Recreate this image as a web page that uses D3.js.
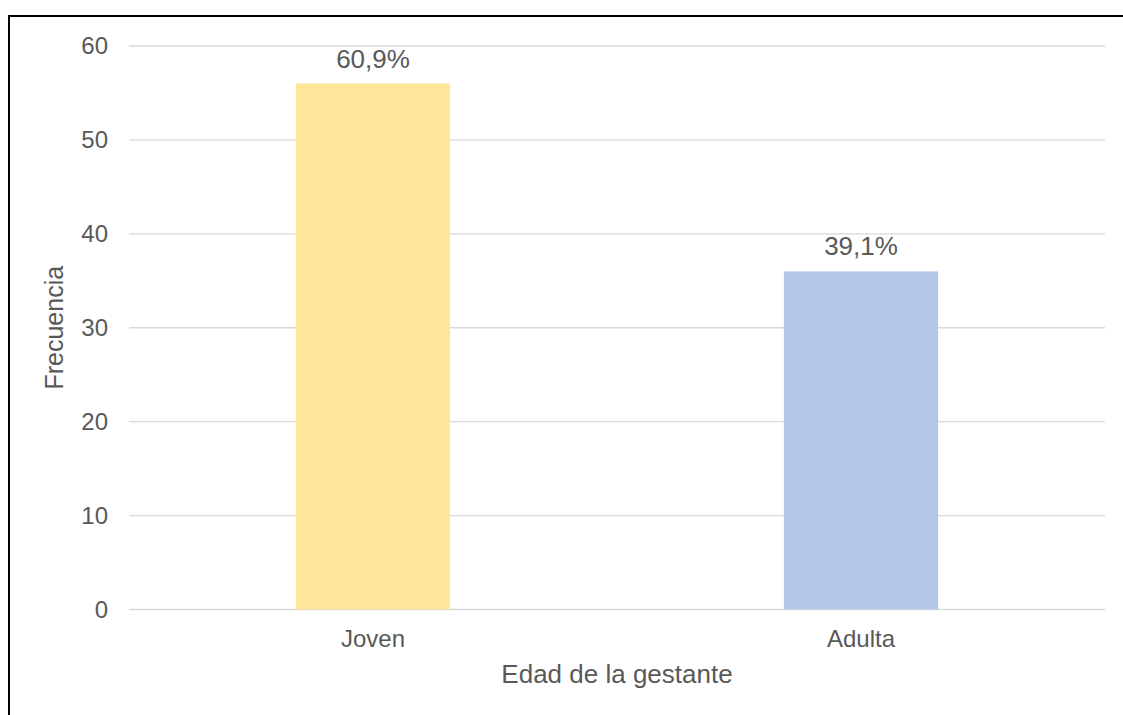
<!DOCTYPE html>
<html>
<head>
<meta charset="utf-8">
<script src="https://cdn.jsdelivr.net/npm/d3@7"></script>
<style>
  body { margin: 0; background: #fff; }
  svg text { font-family: "Liberation Sans", Arial, sans-serif; fill: #595959; }
</style>
</head>
<body>
<svg id="chart" width="1123" height="715"></svg>
<script>
  // datos
  var categories = ["Joven", "Adulta"];
  var frecuencias = [56, 36];
  var porcentajes = ["60,9%", "39,1%"];
  var colores = ["#FFE699", "#B4C7E7"];
  var yTicks = [0, 10, 20, 30, 40, 50, 60];

  var svg = d3.select("#chart");
  var plotLeft = 129, plotRight = 1105, plotTop = 46, plotBottom = 609.5;

  // marco del area del grafico
  svg.append("rect")
    .attr("x", 9).attr("y", 16)
    .attr("width", 1300).attr("height", 900)
    .attr("fill", "none")
    .attr("stroke", "#000")
    .attr("stroke-width", 2);

  var x = d3.scaleBand().domain(categories).range([plotLeft, plotRight]).paddingInner(0.684).paddingOuter(0.342);
  var y = d3.scaleLinear().domain([0, 60]).range([plotBottom, plotTop]);

  // lineas de cuadricula
  svg.append("g").selectAll("line")
    .data(yTicks)
    .enter().append("line")
    .attr("x1", plotLeft).attr("x2", plotRight)
    .attr("y1", function (d) { return y(d); })
    .attr("y2", function (d) { return y(d); })
    .attr("stroke", "#D9D9D9")
    .attr("stroke-width", 1.3);

  // eje Y
  var yAxis = svg.append("g")
    .attr("transform", "translate(" + (plotLeft - 21) + ",0)")
    .call(d3.axisLeft(y).tickValues(yTicks).tickSize(0).tickPadding(0));
  yAxis.select(".domain").remove();
  yAxis.selectAll("text").style("font-size", "24px").attr("fill", "#595959");

  // barras
  svg.append("g").selectAll("rect")
    .data(frecuencias)
    .enter().append("rect")
    .attr("x", function (d, i) { return x(categories[i]); })
    .attr("width", x.bandwidth())
    .attr("y", function (d) { return y(d); })
    .attr("height", function (d) { return y(0) - y(d); })
    .attr("fill", function (d, i) { return colores[i]; });

  // etiquetas de datos
  svg.append("g").selectAll("text")
    .data(frecuencias)
    .enter().append("text")
    .attr("x", function (d, i) { return x(categories[i]) + x.bandwidth() / 2; })
    .attr("y", function (d) { return y(d) - 16; })
    .attr("text-anchor", "middle")
    .style("font-size", "26px")
    .text(function (d, i) { return porcentajes[i]; });

  // eje X
  var xAxis = svg.append("g")
    .attr("transform", "translate(0," + plotBottom + ")")
    .call(d3.axisBottom(x).tickSize(0).tickPadding(0));
  xAxis.select(".domain").remove();
  xAxis.selectAll("text")
    .attr("dy", null)
    .attr("y", 37.5)
    .style("font-size", "24px")
    .attr("fill", "#595959");

  // titulos de ejes
  svg.append("text")
    .attr("x", (plotLeft + plotRight) / 2)
    .attr("y", 683)
    .attr("text-anchor", "middle")
    .style("font-size", "26px")
    .text("Edad de la gestante");

  svg.append("text")
    .attr("transform", "translate(63," + (plotTop + plotBottom) / 2 + ") rotate(-90)")
    .attr("text-anchor", "middle")
    .style("font-size", "25px")
    .text("Frecuencia");
</script>
</body>
</html>
